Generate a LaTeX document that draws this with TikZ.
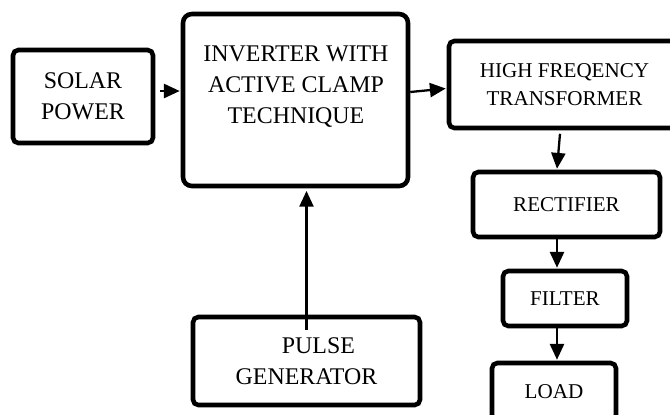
\documentclass[tikz,border=0pt]{standalone}
\usepackage{fontspec}
\setmainfont{Liberation Serif}
\usepackage{tikz}
\usetikzlibrary{arrows.meta, positioning}

\begin{document}
\begin{tikzpicture}[
  x=0.02cm, y=-0.02cm,
  block/.style={rectangle, rounded corners=3pt, draw=black, line width=2.6pt,
                text centered, align=center},
  bigtxt/.style={font=\fontsize{13.6}{17.6}\selectfont, align=center},
  smalltxt/.style={font=\fontsize{12}{15.9}\selectfont, align=center},
  arr/.style={-{Triangle[length=9pt, width=8pt]}, line width=1.3pt},
]
  \useasboundingbox (0,0) rectangle (670,414);

  % source and inverter stage
  \node[block, bigtxt, minimum width=2.8cm, minimum height=1.86cm] (solar) at (83,96.5) {SOLAR\\POWER};
  \node[block, minimum width=4.5cm, minimum height=3.44cm, rounded corners=5pt] (inv) at (295.5,100) {};
  \node[bigtxt] (invtext) at (296,87) {INVERTER WITH\\ACTIVE CLAMP\\TECHNIQUE};
  \node[block, bigtxt, minimum width=4.54cm, minimum height=1.76cm] (pulse) at (306.5,361) {\hspace*{1em}PULSE\\GENERATOR};

  % output chain on the right
  \node[block, smalltxt, minimum width=4.62cm, minimum height=1.74cm] (hf) at (564.5,84.5) {HIGH FREQENCY\\TRANSFORMER};
  \node[block, smalltxt, minimum width=3.74cm, minimum height=1.3cm] (rect) at (566.5,204.5) {RECTIFIER};
  \node[block, smalltxt, minimum width=2.48cm, minimum height=1.1cm] (filter) at (565,298.5) {FILTER};
  \node[block, smalltxt, minimum width=2.48cm, minimum height=1.14cm] (load) at (554,391.5) {LOAD};

  % connections
  \draw[arr] ([shift={(5,-5.5)}]solar.east) -- ([shift={(-1,-9)}]inv.west);
  \draw[arr] ([shift={(0,-8)}]inv.east) -- ([shift={(-1,4)}]hf.west);
  \draw[arr] ([shift={(0,15)}]pulse.north) -- ([yshift=-1.5pt]pulse.north |- inv.south);
  \draw[arr] ([shift={(-4.5,3.5)}]hf.south) -- ([shift={(-9.5,-1)}]rect.north);
  \draw[arr] ([shift={(-9.5,0)}]rect.south) -- ([shift={(-8,-1)}]filter.north);
  \draw[arr] ([shift={(-8,0)}]filter.south) -- ([shift={(3,-1)}]load.north);
\end{tikzpicture}
\end{document}
